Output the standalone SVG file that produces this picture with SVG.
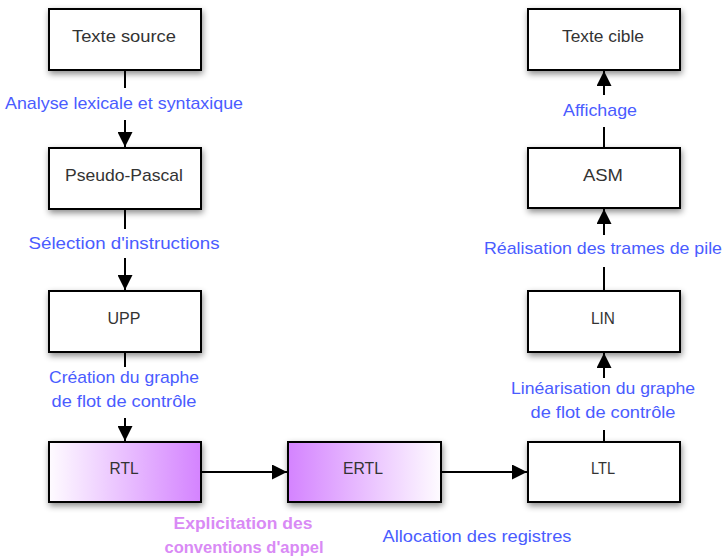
<svg xmlns="http://www.w3.org/2000/svg" width="727" height="559" viewBox="0 0 727 559">
<style>
.box{stroke:#000;stroke-width:2;fill:#fff;filter:url(#sh)}
.nt{font-family:"Liberation Sans",Arial,sans-serif;font-size:17px;fill:#333;text-anchor:middle}
.lb{font-family:"Liberation Sans",Arial,sans-serif;font-size:17px;fill:#4a5cff;text-anchor:middle}
.lp{font-family:"Liberation Sans",Arial,sans-serif;font-size:17px;font-weight:bold;fill:#d98af5;text-anchor:middle}
.ln{stroke:#000;stroke-width:2;fill:none}
</style>
<defs>
<filter id="sh" x="-20%" y="-20%" width="150%" height="160%">
<feDropShadow dx="1" dy="3" stdDeviation="3" flood-color="#000" flood-opacity="0.45"/>
</filter>
<linearGradient id="gR" x1="0" y1="0" x2="1" y2="0">
<stop offset="0" stop-color="#fefbff"/><stop offset="1" stop-color="#d483ff"/>
</linearGradient>
<linearGradient id="gE" x1="0" y1="0" x2="1" y2="0">
<stop offset="0" stop-color="#d483ff"/><stop offset="1" stop-color="#fefbff"/>
</linearGradient>
<marker id="ah" viewBox="0 0 10 10" refX="10" refY="5" markerWidth="15" markerHeight="15" markerUnits="userSpaceOnUse" orient="auto">
<path d="M0,0 L10,5 L0,10 Z" fill="#000"/>
</marker>
</defs>
<g id="connectors">
<line class="ln" x1="125" y1="70" x2="125" y2="88"/>
<line class="ln" x1="125" y1="120" x2="125" y2="147" marker-end="url(#ah)"/>
<line class="ln" x1="125" y1="209" x2="125" y2="229"/>
<line class="ln" x1="125" y1="258" x2="125" y2="290" marker-end="url(#ah)"/>
<line class="ln" x1="125" y1="352" x2="125" y2="367"/>
<line class="ln" x1="125" y1="418" x2="125" y2="441" marker-end="url(#ah)"/>
<line class="ln" x1="201" y1="472" x2="287" y2="472" marker-end="url(#ah)"/>
<line class="ln" x1="441" y1="472" x2="527" y2="472" marker-end="url(#ah)"/>
<line class="ln" x1="604" y1="442" x2="604" y2="430"/>
<line class="ln" x1="604" y1="378" x2="604" y2="353" marker-end="url(#ah)"/>
<line class="ln" x1="604" y1="291" x2="604" y2="267"/>
<line class="ln" x1="604" y1="235" x2="604" y2="209" marker-end="url(#ah)"/>
<line class="ln" x1="604" y1="148" x2="604" y2="127"/>
<line class="ln" x1="604" y1="95" x2="604" y2="71" marker-end="url(#ah)"/>
<text class="lb" x="124" y="109" textLength="238" lengthAdjust="spacingAndGlyphs">Analyse lexicale et syntaxique</text>
<text class="lb" x="124" y="249" textLength="191" lengthAdjust="spacingAndGlyphs">Sélection d'instructions</text>
<text class="lb" x="124" y="383" textLength="150" lengthAdjust="spacingAndGlyphs">Création du graphe</text>
<text class="lb" x="124" y="407" textLength="145" lengthAdjust="spacingAndGlyphs">de flot de contrôle</text>
<text class="lp" x="243" y="529" textLength="139" lengthAdjust="spacingAndGlyphs">Explicitation des</text>
<text class="lp" x="244" y="553" textLength="159" lengthAdjust="spacingAndGlyphs">conventions d'appel</text>
<text class="lb" x="477" y="542" textLength="189" lengthAdjust="spacingAndGlyphs">Allocation des registres</text>
<text class="lb" x="603" y="394" textLength="184" lengthAdjust="spacingAndGlyphs">Linéarisation du graphe</text>
<text class="lb" x="603" y="418" textLength="145" lengthAdjust="spacingAndGlyphs">de flot de contrôle</text>
<text class="lb" x="603" y="254" textLength="238" lengthAdjust="spacingAndGlyphs">Réalisation des trames de pile</text>
<text class="lb" x="600" y="116" textLength="74" lengthAdjust="spacingAndGlyphs">Affichage</text>
</g>
<g id="texte-source"><rect class="box" x="49" y="9" width="152" height="61"/><text class="nt" x="124" y="42" textLength="104" lengthAdjust="spacingAndGlyphs">Texte source</text></g>
<g id="pseudo-pascal"><rect class="box" x="49" y="148" width="152" height="61"/><text class="nt" x="124" y="181" textLength="118" lengthAdjust="spacingAndGlyphs">Pseudo-Pascal</text></g>
<g id="upp"><rect class="box" x="49" y="291" width="152" height="61"/><text class="nt" x="124" y="324" textLength="33" lengthAdjust="spacingAndGlyphs">UPP</text></g>
<g id="rtl"><rect class="box" x="49" y="442" width="152" height="60" style="fill:url(#gR)"/><text class="nt" x="124" y="474" textLength="29" lengthAdjust="spacingAndGlyphs">RTL</text></g>
<g id="ertl"><rect class="box" x="288" y="442" width="153" height="60" style="fill:url(#gE)"/><text class="nt" x="363" y="474" textLength="40" lengthAdjust="spacingAndGlyphs">ERTL</text></g>
<g id="ltl"><rect class="box" x="528" y="442" width="152" height="60"/><text class="nt" x="603" y="474" textLength="24" lengthAdjust="spacingAndGlyphs">LTL</text></g>
<g id="lin"><rect class="box" x="528" y="291" width="152" height="61"/><text class="nt" x="603" y="324" textLength="24" lengthAdjust="spacingAndGlyphs">LIN</text></g>
<g id="asm"><rect class="box" x="528" y="148" width="152" height="60"/><text class="nt" x="603" y="181" textLength="40" lengthAdjust="spacingAndGlyphs">ASM</text></g>
<g id="texte-cible"><rect class="box" x="528" y="9" width="152" height="61"/><text class="nt" x="603" y="42" textLength="82" lengthAdjust="spacingAndGlyphs">Texte cible</text></g>
</svg>
